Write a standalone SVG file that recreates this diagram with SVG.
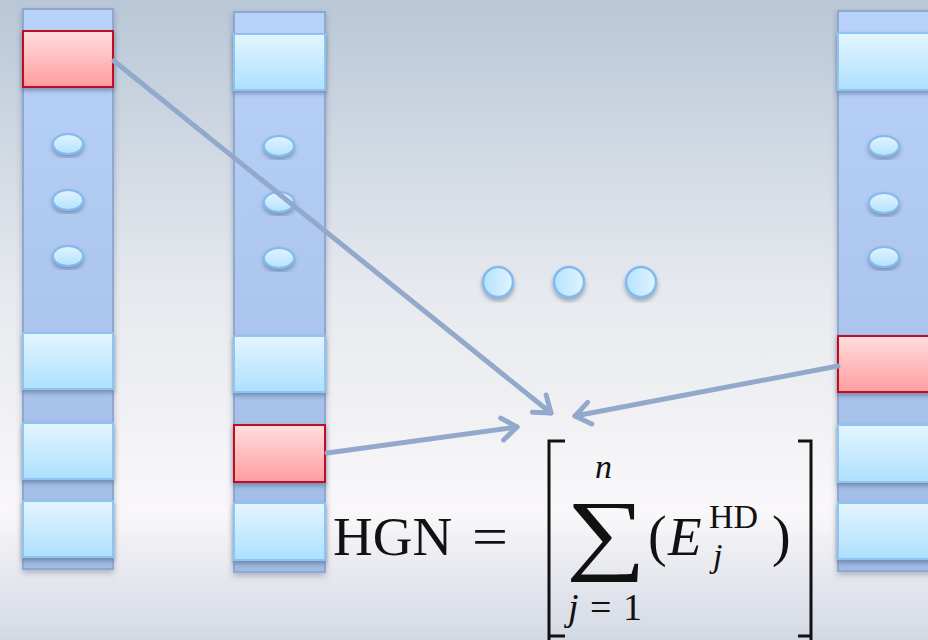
<svg xmlns="http://www.w3.org/2000/svg" width="928" height="640" viewBox="0 0 928 640">
<defs>
<linearGradient id="bg" x1="0" y1="0" x2="0" y2="1">
<stop offset="0" stop-color="#b9c7d7"/>
<stop offset="0.45" stop-color="#e6e9ee"/>
<stop offset="0.8" stop-color="#f9f7f9"/>
<stop offset="1" stop-color="#d3d9e4"/>
</linearGradient>
<linearGradient id="col" x1="0" y1="0" x2="0" y2="1">
<stop offset="0" stop-color="#b9d2fa"/>
<stop offset="1" stop-color="#a0bbe4"/>
</linearGradient>
<linearGradient id="box" x1="0" y1="0" x2="0" y2="1">
<stop offset="0" stop-color="#e4f5ff"/>
<stop offset="1" stop-color="#ade0fe"/>
</linearGradient>
<linearGradient id="red" x1="0" y1="0" x2="0" y2="1">
<stop offset="0" stop-color="#ffdede"/>
<stop offset="1" stop-color="#ff9c9e"/>
</linearGradient>
<linearGradient id="dot" x1="0" y1="0" x2="1" y2="0">
<stop offset="0" stop-color="#b4e2ff"/>
<stop offset="1" stop-color="#e2f4ff"/>
</linearGradient>
<linearGradient id="edot" x1="0" y1="0" x2="0" y2="1">
<stop offset="0" stop-color="#e2f4ff"/>
<stop offset="1" stop-color="#b4e2ff"/>
</linearGradient>
<filter id="sh" x="-20%" y="-20%" width="140%" height="140%">
<feDropShadow dx="0" dy="3" stdDeviation="2" flood-color="#3a5070" flood-opacity="0.45"/>
</filter>
<filter id="shc" x="-20%" y="-5%" width="140%" height="110%">
<feDropShadow dx="0" dy="3" stdDeviation="3" flood-color="#3a5070" flood-opacity="0.35"/>
</filter>
<marker id="ah" markerUnits="userSpaceOnUse" markerWidth="40" markerHeight="40" viewBox="-20 -20 40 40" refX="0" refY="0" orient="auto">
<path d="M -15 -11 L 0 0 L -15 11" fill="none" stroke="#92a9cc" stroke-width="5" stroke-linecap="round" stroke-linejoin="round"/>
</marker>
<style>
.col{fill:url(#col);stroke:#90a8cf;stroke-width:2;filter:url(#shc)}
.box{fill:url(#box);stroke:#8ec4f2;stroke-width:2;filter:url(#sh)}
.red{fill:url(#red);stroke:#c01028;stroke-width:2;filter:url(#sh)}
.ed{fill:url(#edot);stroke:#80baee;stroke-width:2;filter:url(#sh)}
.cd{fill:url(#dot);stroke:#80baee;stroke-width:2.5;filter:url(#sh)}
.arr{fill:none;stroke:#92a9cc;stroke-width:5;stroke-linecap:round;marker-end:url(#ah)}
.m{font-family:"Liberation Serif","DejaVu Serif",serif;fill:#111}
.i{font-style:italic}
</style>
</defs>
<rect x="0" y="0" width="928" height="640" fill="url(#bg)"/>

<g id="column1">
<rect class="col" x="23" y="9" width="90" height="560"/>
<rect class="red" x="23" y="31" width="90" height="56"/>
<ellipse class="ed" cx="68" cy="144" rx="15" ry="10"/>
<ellipse class="ed" cx="68" cy="200" rx="15" ry="10"/>
<ellipse class="ed" cx="68" cy="256" rx="15" ry="10"/>
<rect class="box" x="23" y="333" width="90" height="56"/>
<rect class="box" x="23" y="423" width="90" height="56"/>
<rect class="box" x="23" y="501" width="90" height="56"/>
</g>

<g id="column2">
<rect class="col" x="234" y="12" width="91" height="560"/>
<rect class="box" x="234" y="34" width="91" height="56"/>
<ellipse class="ed" cx="279" cy="146" rx="15" ry="10"/>
<ellipse class="ed" cx="279" cy="202" rx="15" ry="10"/>
<ellipse class="ed" cx="279" cy="258" rx="15" ry="10"/>
<rect class="box" x="234" y="336" width="91" height="56"/>
<rect class="red" x="234" y="425" width="91" height="57"/>
<rect class="box" x="234" y="503" width="91" height="57"/>
</g>

<g id="column3">
<rect class="col" x="838" y="11" width="100" height="560"/>
<rect class="box" x="838" y="33" width="100" height="57"/>
<ellipse class="ed" cx="884" cy="146" rx="15" ry="10"/>
<ellipse class="ed" cx="884" cy="203" rx="15" ry="10"/>
<ellipse class="ed" cx="884" cy="257" rx="15" ry="10"/>
<rect class="red" x="838" y="336" width="100" height="56"/>
<rect class="box" x="838" y="425" width="100" height="57"/>
<rect class="box" x="838" y="503" width="100" height="56"/>
</g>

<g id="ellipsis">
<circle class="cd" cx="498" cy="282" r="15"/>
<circle class="cd" cx="569" cy="282" r="15"/>
<circle class="cd" cx="641" cy="282" r="15"/>
</g>

<g id="connectors">
<line class="arr" x1="114" y1="61" x2="551" y2="413"/>
<line class="arr" x1="327" y1="453" x2="517" y2="427"/>
<line class="arr" x1="838" y1="366" x2="575" y2="416"/>
</g>

<g id="formula">
<text class="m" x="333" y="555" font-size="55">HGN</text>
<text class="m" x="472" y="555" font-size="55" textLength="36" lengthAdjust="spacingAndGlyphs">=</text>
<path d="M 565 441 L 549 441 L 549 645 M 549 636 L 565 636" fill="none" stroke="#111" stroke-width="3"/>
<path d="M 798 441 L 811 441 L 811 645 M 811 636 L 798 636" fill="none" stroke="#111" stroke-width="3"/>
<text class="m" x="566" y="563" font-size="90" textLength="80" lengthAdjust="spacingAndGlyphs">∑</text>
<text class="m i" x="595" y="478" font-size="34">n</text>
<text class="m" x="568" y="620" font-size="38" textLength="74"><tspan class="i">j</tspan>=1</text>
<text class="m" x="648" y="555" font-size="56">(</text>
<text class="m i" x="668" y="555" font-size="55">E</text>
<text class="m" x="709" y="528" font-size="34">HD</text>
<text class="m i" x="713" y="567" font-size="34">j</text>
<text class="m" x="772" y="555" font-size="56">)</text>
</g>
</svg>
